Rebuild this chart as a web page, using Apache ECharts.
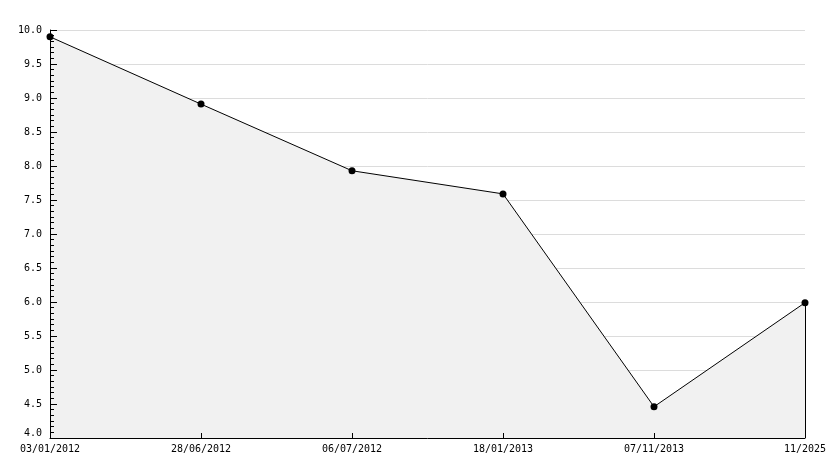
<!DOCTYPE html>
<html><head><meta charset="utf-8">
<script src="https://cdn.jsdelivr.net/npm/echarts@6/dist/echarts.min.js"></script>
<style>html,body{margin:0;padding:0;background:#fff}#c{width:834px;height:468px}</style>
</head><body><div id="c"></div>
<script>
const categories = ['03/01/2012','28/06/2012','06/07/2012','18/01/2013','07/11/2013','11/2025'];
const values = [9.9, 8.91, 7.93, 7.59, 4.46, 5.99];
const yMin = 4, yMax = 10, yStep = 0.5;
const font = 'DejaVu Sans Mono';
const chart = echarts.init(document.getElementById('c'), null, {renderer:'canvas'});
const last = categories.length - 1;
const lblColor = '#000';
chart.setOption({
  animation:false,
  backgroundColor:'#fff',
  grid:{left:50,right:29,top:30,bottom:30},
  xAxis:[{type:'category',data:categories,boundaryGap:false,z:0,
    axisLine:{show:false},axisTick:{show:false},
    axisLabel:{fontFamily:font,fontSize:10,color:lblColor,margin:6,interval:0},
    splitLine:{show:false}},
   {type:'category',data:categories,boundaryGap:false,position:'bottom',z:5,
    axisLine:{show:true,onZero:false,lineStyle:{color:'#000',width:1}},
    axisTick:{show:true,inside:true,length:5,alignWithLabel:true,interval:0,lineStyle:{color:'#000'}},
    axisLabel:{show:false},splitLine:{show:false}}],
  yAxis:[{type:'value',min:yMin,max:yMax,interval:yStep,z:0,
    axisLine:{show:false},axisTick:{show:false},
    axisLabel:{fontFamily:font,fontSize:10,color:lblColor,margin:8,
      formatter:v=> v===yMin ? '{b|'+v.toFixed(1)+'}' : v.toFixed(1),
      rich:{b:{fontFamily:font,fontSize:10,color:lblColor,padding:[0,0,10,0]}}},
    splitLine:{show:true,lineStyle:{color:'#dcdcdc',width:1}}},
   {type:'value',min:yMin,max:yMax,interval:yStep,position:'left',z:5,
    axisLine:{show:true,onZero:false,lineStyle:{color:'#000',width:1}},
    axisTick:{show:true,inside:true,length:7,lineStyle:{color:'#000'}},
    minorTick:{show:true,splitNumber:6,length:4,lineStyle:{color:'#000'}},
    axisLabel:{show:false},splitLine:{show:false}}],
  series:[{type:'line',data:values,xAxisIndex:0,yAxisIndex:0,symbol:'circle',symbolSize:7,
    itemStyle:{color:'#000'},lineStyle:{color:'#000',width:1},
    areaStyle:{color:'#f1f1f1',opacity:1,origin:'start'},
    markLine:{silent:true,symbol:'none',label:{show:false},
      lineStyle:{color:'#000',width:1,type:'solid'},
      data:[[{xAxis:categories[last],yAxis:yMin},{xAxis:categories[last],yAxis:values[last]}]]}}]
});
</script></body></html>
